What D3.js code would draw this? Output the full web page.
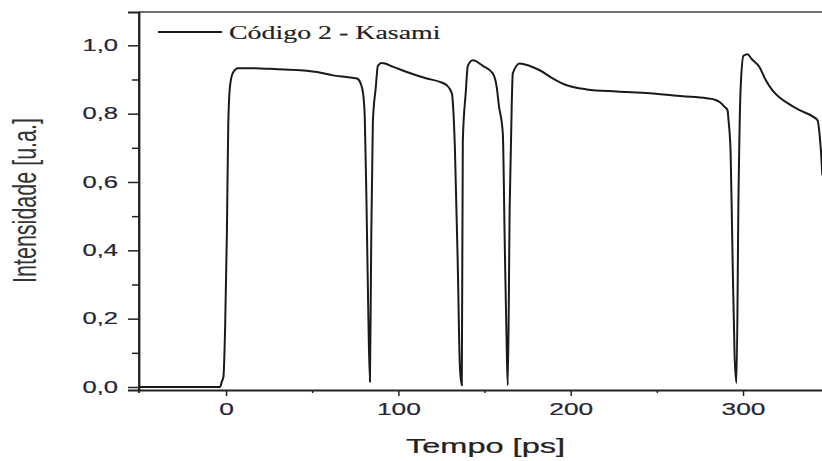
<!DOCTYPE html>
<html>
<head>
<meta charset="utf-8">
<script src="https://cdn.jsdelivr.net/npm/d3@7"></script>
<style>
  html, body { margin: 0; padding: 0; background: #fff; overflow: hidden; }
  svg { display: block; }
</style>
</head>
<body>
<svg id="chart" width="822" height="461"></svg>
<script>
// Pulse trace: time in ps, normalised intensity
const timePs = [
  -50.5, -3.5, -2.5, -1.5, -0.5, 0.5, 1.3, 2.3, 4, 7, 14, 30, 43, 55, 62, 70, 76,
  78, 79.5, 80.5, 81.5, 82.5, 83.5, 84.2, 85.2, 86.9, 88.1, 90.4, 97, 104.9,
  116.5, 124, 128.1, 131, 132.8, 134.5, 135.7, 136.8, 137.4, 139.1, 140.3,
  143.2, 149, 154.8, 157.1, 158.3, 160.6, 161.7, 162.9, 163.5, 164.6, 165.8,
  166.4, 170.4, 176, 182, 190, 197.7, 209.3, 226.7, 245.8, 264.9, 278.8, 284,
  286.4, 289.3, 291, 291.6, 292.8, 293.9, 295.1, 296.2, 297.4, 298.6, 300.3,
  302.6, 305, 309.6, 313, 317.1, 321, 325.2, 332.8, 340.3, 343.3, 344.4,
  345.3, 346
];
const intensity = [
  0, 0, 0.015, 0.03, 0.18, 0.45, 0.77, 0.88, 0.92, 0.933, 0.933, 0.93, 0.927,
  0.92, 0.912, 0.907, 0.903, 0.89, 0.86, 0.79, 0.54, 0.234, 0.015, 0.4, 0.775,
  0.877, 0.94, 0.948, 0.937, 0.922, 0.903, 0.893, 0.883, 0.86, 0.70, 0.35,
  0.06, 0.005, 0.72, 0.862, 0.94, 0.956, 0.94, 0.918, 0.877, 0.825, 0.743,
  0.43, 0.108, 0.005, 0.527, 0.83, 0.918, 0.947, 0.94, 0.927, 0.902, 0.883,
  0.871, 0.865, 0.86, 0.851, 0.845, 0.84, 0.834, 0.82, 0.81, 0.78, 0.684,
  0.386, 0.094, 0.012, 0.57, 0.874, 0.97, 0.974, 0.96, 0.936, 0.9, 0.868,
  0.848, 0.833, 0.81, 0.792, 0.78, 0.74, 0.684, 0.62
];
const xMajorTicks = [0, 100, 200, 300];
const xMinorTicks = [50, 150, 250];
const yMajorTicks = [0, 0.2, 0.4, 0.6, 0.8, 1.0];
const yMinorTicks = [0.1, 0.3, 0.5, 0.7, 0.9];
const seriesName = "Código 2 - Kasami";
const xTitle = "Tempo [ps]";
const yTitle = "Intensidade [u.a.]";

const svg = d3.select("#chart");
const plotLeft = 139, plotRight = 829.2, plotTop = 12, plotBottom = 390;
const stretch = 1.55; // horizontal glyph stretch used for all text

const x = d3.scaleLinear().domain([-50.5, 350]).range([plotLeft, plotRight]);
const y = d3.scaleLinear().domain([-0.0088, 1.0975]).range([plotBottom, plotTop]);

const fmt = v => d3.format(".1f")(v).replace(".", ",");

// Frame: top border
svg.append("line")
  .attr("x1", plotLeft).attr("x2", plotRight)
  .attr("y1", plotTop).attr("y2", plotTop)
  .attr("stroke", "#444").attr("stroke-width", 1.6);

// Y axis (major + minor ticks)
const yAxis = svg.append("g").attr("transform", `translate(${plotLeft},0)`)
  .call(d3.axisLeft(y).tickValues(yMajorTicks).tickSize(11).tickPadding(10).tickFormat(fmt));
svg.append("g").attr("transform", `translate(${plotLeft},0)`)
  .call(d3.axisLeft(y).tickValues(yMinorTicks).tickSize(7).tickFormat(""))
  .call(g => g.select(".domain").remove());

// X axis (major + minor ticks)
const xAxis = svg.append("g").attr("transform", `translate(0,${plotBottom})`)
  .call(d3.axisBottom(x).tickValues(xMajorTicks).tickSize(6).tickPadding(7).tickSizeOuter(0).tickFormat(d3.format("d")));
svg.append("g").attr("transform", `translate(0,${plotBottom})`)
  .call(d3.axisBottom(x).tickValues(xMinorTicks).tickSize(3).tickFormat(""))
  .call(g => g.select(".domain").remove());

svg.selectAll(".domain").attr("stroke", "#222").attr("stroke-width", 1.8);
svg.selectAll(".tick line").attr("stroke", "#222").attr("stroke-width", 1.5);

// Left spine extends slightly below the bottom axis
svg.append("line")
  .attr("x1", plotLeft).attr("x2", plotLeft)
  .attr("y1", plotTop).attr("y2", plotBottom + 3)
  .attr("stroke", "#222").attr("stroke-width", 1.8);

// Tick labels: Arial-like, horizontally stretched, slightly heavy
yAxis.selectAll(".tick text")
  .attr("font-family", "Liberation Sans, Arial, sans-serif")
  .attr("font-size", 16.5)
  .attr("fill", "#262636")
  .attr("stroke", "#262636").attr("stroke-width", 0.2)
  .attr("x", null)
  .attr("text-anchor", "end")
  .attr("transform", `translate(-21,0) scale(${stretch},1)`);
xAxis.selectAll(".tick text")
  .attr("font-family", "Liberation Sans, Arial, sans-serif")
  .attr("font-size", 17)
  .attr("fill", "#262636")
  .attr("stroke", "#262636").attr("stroke-width", 0.2)
  .attr("transform", `scale(${stretch},1)`);

// Axis titles
svg.append("text")
  .attr("transform", `translate(485.5,453) scale(${stretch},1)`)
  .attr("text-anchor", "middle")
  .attr("font-family", "Liberation Sans, Arial, sans-serif")
  .attr("font-size", 21)
  .attr("fill", "#222")
  .attr("stroke", "#222").attr("stroke-width", 0.25)
  .text(xTitle);

svg.append("text")
  .attr("transform", `translate(36,200.5) scale(${stretch},1) rotate(-90)`)
  .attr("text-anchor", "middle")
  .attr("font-family", "Liberation Sans, Arial, sans-serif")
  .attr("font-size", 21.5)
  .attr("fill", "#333")
  .text(yTitle);

// Trace
const pts = timePs.map((t, i) => [t, intensity[i]]);
svg.append("path")
  .datum(pts)
  .attr("fill", "none")
  .attr("stroke", "#1a1a1a")
  .attr("stroke-width", 2)
  .attr("stroke-linejoin", "round")
  .attr("d", d3.line().curve(d3.curveMonotoneX).x(d => x(d[0])).y(d => y(d[1])));

// Legend
svg.append("line")
  .attr("x1", 158).attr("x2", 222).attr("y1", 32).attr("y2", 32)
  .attr("stroke", "#1a1a1a").attr("stroke-width", 2);
svg.append("text")
  .attr("transform", `translate(229,39) scale(${stretch},1)`)
  .attr("font-family", "Liberation Serif, Times New Roman, serif")
  .attr("font-size", 18)
  .attr("fill", "#222")
  .attr("stroke", "#222").attr("stroke-width", 0.15)
  .text(seriesName);
</script>
</body>
</html>
